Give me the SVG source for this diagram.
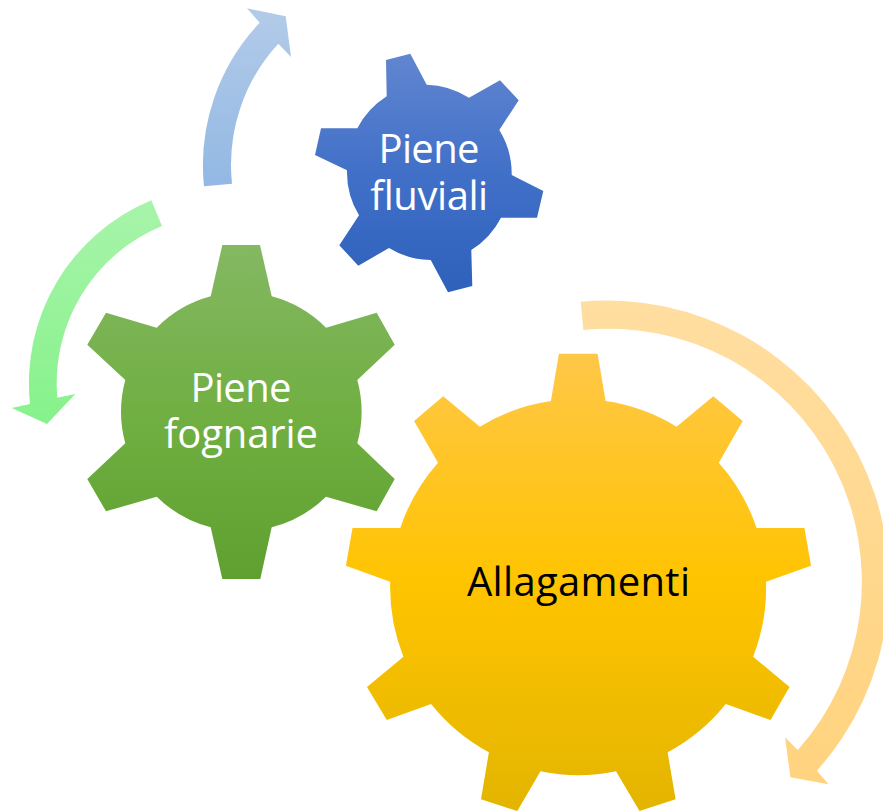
<svg xmlns="http://www.w3.org/2000/svg" width="883" height="811" viewBox="0 0 883 811">
<style>
text{font-family:"Open Sans","Noto Sans","Liberation Sans",sans-serif;font-size:40px;text-anchor:middle}
.w{fill:#fff;font-weight:400}.k{fill:#000}
</style>
<defs>
<linearGradient id="gb" x1="0" y1="0" x2="0" y2="1"><stop offset="0" stop-color="#6186d0"/><stop offset=".5" stop-color="#4170c8"/><stop offset="1" stop-color="#2e61bb"/></linearGradient>
<linearGradient id="gg" x1="0" y1="0" x2="0" y2="1"><stop offset="0" stop-color="#84b862"/><stop offset=".55" stop-color="#6fae40"/><stop offset="1" stop-color="#5fa031"/></linearGradient>
<linearGradient id="gy" x1="0" y1="0" x2="0" y2="1"><stop offset="0" stop-color="#ffc749"/><stop offset=".5" stop-color="#ffc400"/><stop offset="1" stop-color="#e3b500"/></linearGradient>
<linearGradient id="ab" x1="0" y1="0" x2="0" y2="1"><stop offset="0" stop-color="#b3cbe9"/><stop offset="1" stop-color="#92b8e3"/></linearGradient>
<linearGradient id="ag" x1="0" y1="0" x2="0" y2="1"><stop offset="0" stop-color="#a8f4aa"/><stop offset="1" stop-color="#86f28b"/></linearGradient>
<linearGradient id="ay" x1="0" y1="0" x2="0" y2="1"><stop offset="0" stop-color="#ffdea1"/><stop offset="1" stop-color="#ffd37e"/></linearGradient>
</defs>
<g id="connectors">
<path fill="url(#ab)" d="M204,186.300 A207,207 0 0 1 259.700,22.700 L247,8.300 L285.700,16.300 L291,57 L278.300,43.700 A179,179 0 0 0 232,183.700 Z"/>
<path fill="url(#ag)" d="M151.300,200.300 A198,198 0 0 0 30,404 L11.700,408 L47,424 L75.300,394 L57.300,397.700 A170,170 0 0 1 162,226 Z"/>
<path fill="url(#ay)" d="M580.700,301.700 A282,282 0 0 1 816.900,770.700 L828.600,784.300 L790.500,777.300 L785,737.300 L797.800,750 A253,253 0 0 0 583.400,330 Z"/>
</g>
<g id="piene-fluviali">
<path fill="url(#gb)" d="M386,60 L410.300,53.700 L426.700,84.700 A83,83 0 0 1 469,97.700 L500,80.300 L518.700,100.300 L499.300,130 A83,83 0 0 1 511.700,175 L543.300,191 L537,217.700 L501,217.700 A83,83 0 0 1 471.300,250 L472.300,286 L448,292.300 L430.700,260 A83,83 0 0 1 389,248 L358.300,265.700 L339.300,245.300 L359,215.300 A83,83 0 0 1 347,170.300 L315,155 L321,128.300 L357.300,128.300 A83,83 0 0 1 386.700,96.300 Z"/>
<text class="w" x="429" y="163" textLength="101">Piene</text>
<text class="w" x="429" y="210" textLength="118">fluviali</text>
</g>
<g id="piene-fognarie">
<path fill="url(#gg)" d="M222.300,245 L260,245 L271.700,296.300 A120,120 0 0 1 326,327.700 L376.700,312.700 L394.700,344.700 L357.300,380 A120,120 0 0 1 357.300,443.300 L394.700,479 L376.700,511.300 L326,496.700 A120,120 0 0 1 271.700,527.300 L260.300,579 L222.300,579 L210.700,527.300 A120,120 0 0 1 156.700,496.700 L106,511.300 L87.300,479 L125.300,443.300 A120,120 0 0 1 125.300,380 L87.300,344.700 L106,312.700 L156.700,327.700 A120,120 0 0 1 210.700,296.300 Z"/>
<text class="w" x="241" y="402" textLength="101">Piene</text>
<text class="w" x="241" y="448" textLength="154">fognarie</text>
</g>
<g id="allagamenti">
<path fill="url(#gy)" d="M558.900,353.700 L597.600,353.700 L605.600,401 A188,188 0 0 1 676.600,426.700 L713.300,396.300 L742.700,421 L718.800,462.700 A188,188 0 0 1 756.600,528 L804.400,528 L811,565.700 L766,581.700 A188,188 0 0 1 753.100,656.700 L789.500,687 L770.500,720 L725.800,704 A188,188 0 0 1 667.600,752.300 L675.600,799.300 L639.500,811 L616,771.300 A188,188 0 0 1 540.500,771.300 L517.300,811 L481,799.300 L488.900,752.300 A188,188 0 0 1 431.100,704 L386.800,720 L367,687 L403.400,656.700 A188,188 0 0 1 390.200,581.700 L345.900,565.700 L352.500,528 L400.300,528 A188,188 0 0 1 438,462.700 L414.100,421 L443.200,396.300 L479.900,426.700 A188,188 0 0 1 550.900,401 Z"/>
<text class="k" x="578.500" y="596" textLength="223">Allagamenti</text>
</g>
</svg>
